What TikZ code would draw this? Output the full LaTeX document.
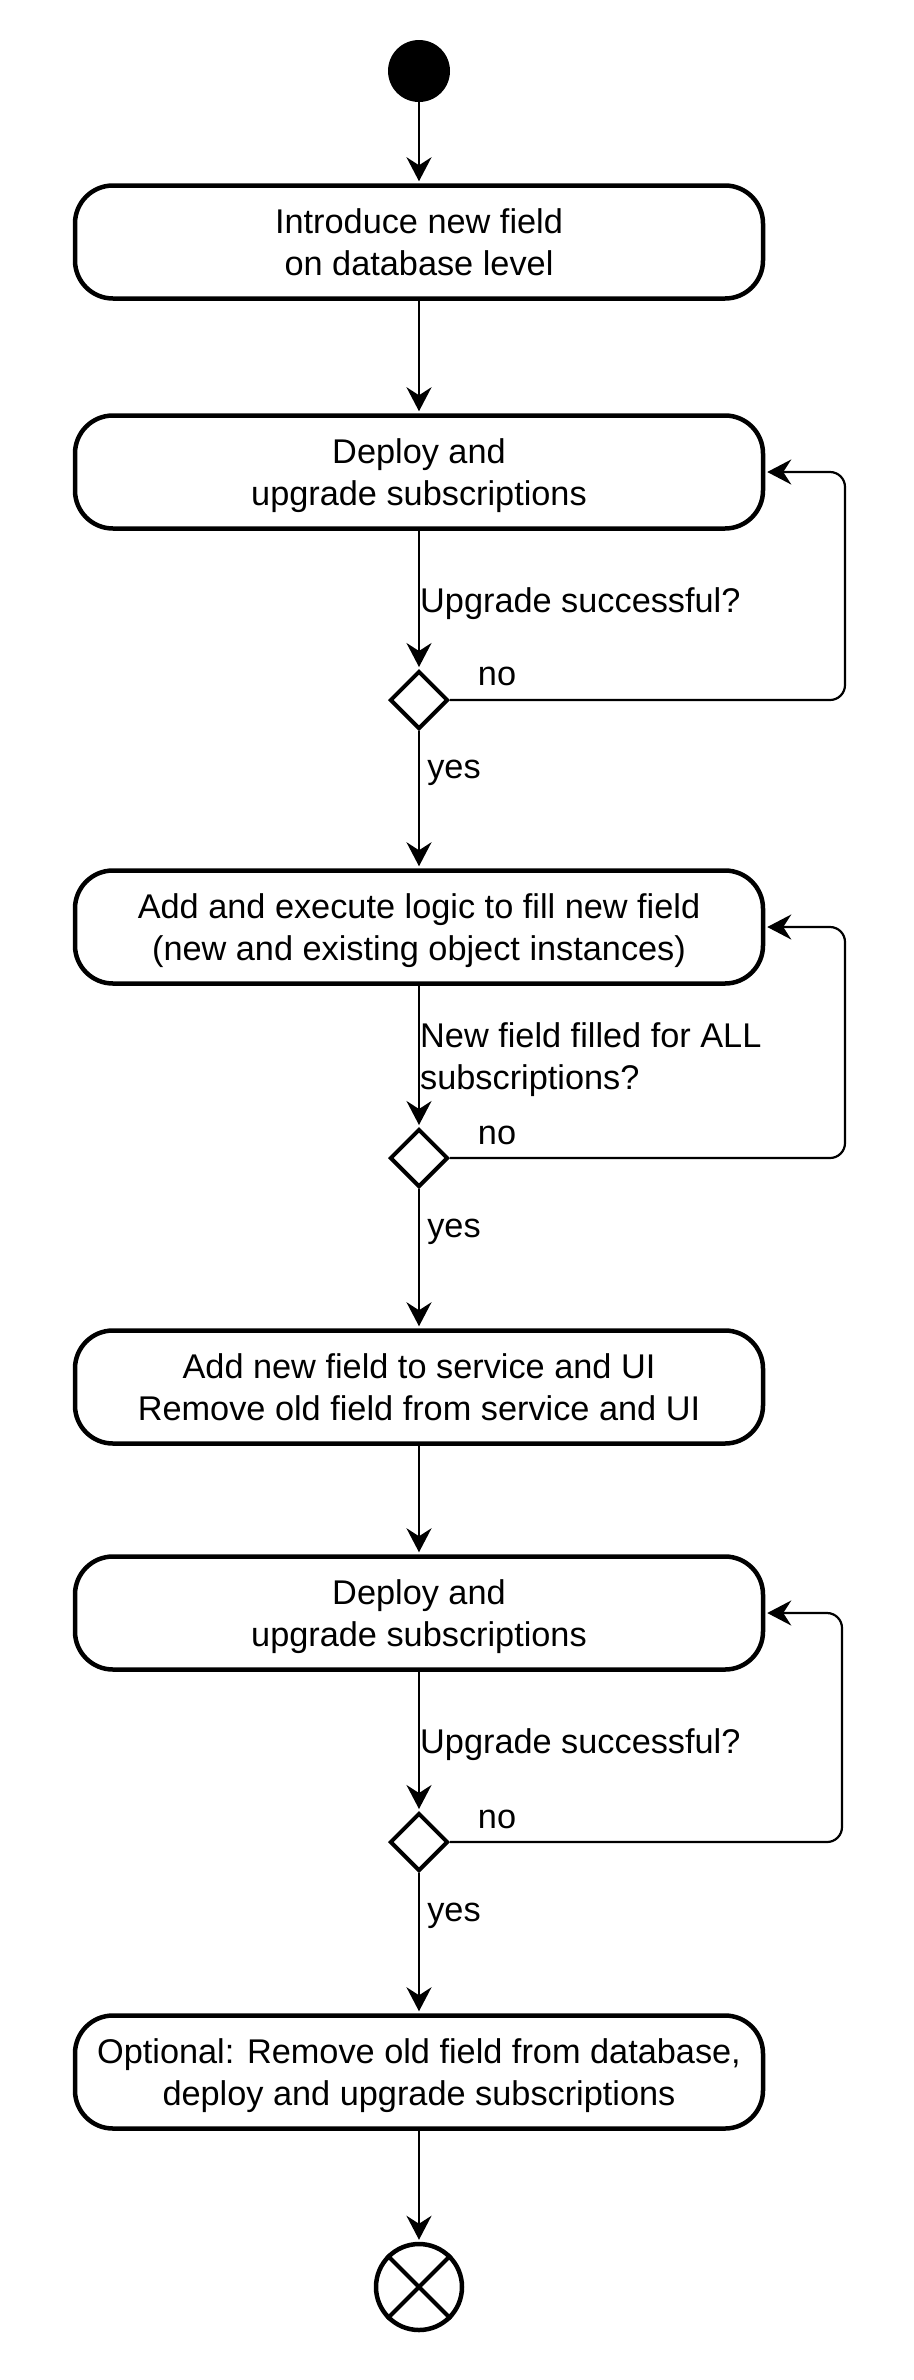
\documentclass[tikz,border=0pt]{standalone}
\usepackage{fontspec}
\setmainfont{Liberation Sans}
\usetikzlibrary{arrows.meta,shapes.geometric}
\begin{document}
\begin{tikzpicture}[x=1pt,y=-1pt,
  every node/.style={font=\fontsize{34.3}{42}\selectfont},
  action/.style={draw, line width=4.5pt, rounded corners=38pt, minimum width=688pt,
    minimum height=113pt, align=center, inner sep=0pt, text depth=0pt},
  decision/.style={draw, diamond, line width=4pt, minimum width=58pt, minimum height=58pt,
    inner sep=0pt, aspect=1},
  flow/.style={line width=2.2pt, shorten >=2pt, -{Stealth[length=24pt,width=25pt,inset=8pt]}},
  loopflow/.style={flow, rounded corners=15pt},
  lbl/.style={inner sep=0pt, align=left}]
\useasboundingbox (0,0) rectangle (913,2380);
\fill[white] (0,0) rectangle (913,2380);

\node[circle, fill=black, minimum size=62pt, inner sep=0pt] (start) at (419,71) {};
\node[action] (b1) at (419,242) {Introduce new field\\on database level};
\node[action] (b2) at (419,472) {Deploy and\\upgrade subscriptions};
\node[decision] (d1) at (419,700) {};
\node[action] (b3) at (419,927) {Add and execute logic to fill new field\\(new and existing object instances)};
\node[decision] (d2) at (419,1158) {};
\node[action] (b4) at (419,1387) {Add new field to service and UI\\Remove old field from service and UI};
\node[action] (b5) at (419,1613) {Deploy and\\upgrade subscriptions};
\node[decision] (d3) at (419,1842) {};
\node[action] (b6) at (419,2072) {Optional: Remove old field from database,\\deploy and upgrade subscriptions};
\node[circle, draw, line width=4.5pt, minimum size=86pt, inner sep=0pt] (end) at (419,2287) {};
\draw[line width=4pt] (end.45) -- (end.225) (end.135) -- (end.315);

\coordinate (lx1) at (845,587);
\coordinate (lx2) at (845,1040);
\coordinate (lx3) at (842,1730);

\draw[flow] (start) -- (b1);
\draw[flow] (b1) -- (b2);
\draw[flow] (b2) -- (d1);
\draw[flow] (d1) -- (b3);
\draw[loopflow] (d1.east) -| (lx1) |- (b2.east);
\draw[flow] (b3) -- (d2);
\draw[flow] (d2) -- (b4);
\draw[loopflow] (d2.east) -| (lx2) |- (b3.east);
\draw[flow] (b4) -- (b5);
\draw[flow] (b5) -- (d3);
\draw[flow] (d3) -- (b6);
\draw[loopflow] (d3.east) -| (lx3) |- (b5.east);
\draw[flow] (b6) -- (end);

\node[lbl, anchor=base west] (q1) at (420,612) {Upgrade successful?};
\node[lbl, anchor=base] (no1) at (497,685) {no};
\node[lbl, anchor=base] (yes1) at (454,778) {yes};
\node[lbl, anchor=west] (q2) at (420,1060) {New field filled for ALL\\subscriptions?};
\node[lbl, anchor=base] (no2) at (497,1144) {no};
\node[lbl, anchor=base] (yes2) at (454,1237) {yes};
\node[lbl, anchor=base west] (q3) at (420,1753) {Upgrade successful?};
\node[lbl, anchor=base] (no3) at (497,1828) {no};
\node[lbl, anchor=base] (yes3) at (454,1921) {yes};
\end{tikzpicture}
\end{document}
